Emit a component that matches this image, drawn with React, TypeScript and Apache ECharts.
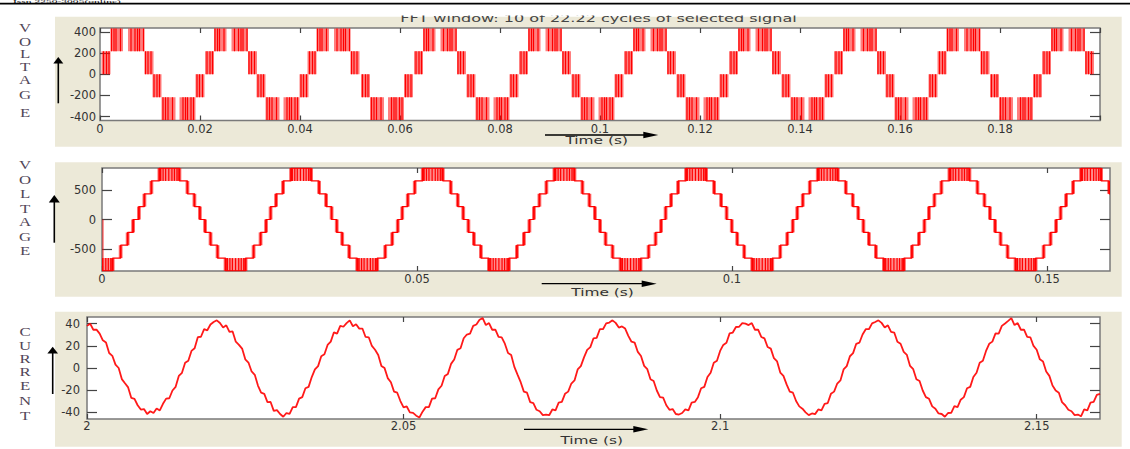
import React, { useEffect, useRef } from 'react';
import * as echarts from 'echarts';

const W = 1130;
const H = 449;

// ---------------- Panel 1 : 5-level voltage, 0 – 0.2 s ----------------
const v1XTicks = [0, 0.02, 0.04, 0.06, 0.08, 0.1, 0.12, 0.14, 0.16, 0.18, 0.2];
const v1XLabels = [0, 0.02, 0.04, 0.06, 0.08, 0.1, 0.12, 0.14, 0.16, 0.18];
const v1YTicks = [-400, -200, 0, 200, 400];
// centres of the positive / negative half cycles (s)
const v1Peaks = [0.0055, 0.0262, 0.0467, 0.068, 0.089, 0.11, 0.131, 0.152, 0.1727, 0.1936];
const v1Troughs = [0.0157, 0.0365, 0.0574, 0.0785, 0.0995, 0.1205, 0.1415, 0.1623, 0.1832];
// switching bands of a half cycle: [start offset, end offset, level low, level high]
const v1PosBands = [
  [-0.0052, -0.0034, 0, 217],
  [-0.0034, -0.0009, 217, 433],
  [0.0001, 0.0034, 217, 433],
  [0.0034, 0.0052, 0, 217],
];
const v1NegBands = [
  [-0.0052, -0.0034, -217, 0],
  [-0.0034, -0.0006, -433, -217],
  [0.0002, 0.0034, -433, -217],
  [0.0034, 0.0052, -217, 0],
];
// solid switching edges inside the bands: [offset, level low, level high]
const v1PosPulses = [
  [-0.0048, 0, 217], [-0.0042, 0, 217], [-0.0037, 0, 217],
  [-0.0032, 217, 433], [-0.0027, 217, 433], [-0.0023, 217, 433], [-0.0014, 217, 433],
  [0.0007, 217, 433], [0.0015, 217, 433], [0.002, 217, 433], [0.0024, 217, 433], [0.0032, 217, 433],
  [0.0036, 0, 217], [0.0041, 0, 217], [0.0047, 0, 217],
];
const v1NegPulses = [
  [-0.0049, -217, 0], [-0.0043, -217, 0], [-0.0038, -217, 0],
  [-0.0031, -433, -217], [-0.0026, -433, -217], [-0.0021, -433, -217], [-0.0012, -433, -217],
  [0.0009, -433, -217], [0.0014, -433, -217], [0.0018, -433, -217], [0.0025, -433, -217], [0.003, -433, -217],
  [0.0037, -217, 0], [0.0042, -217, 0], [0.0048, -217, 0],
];

// ---------------- Panel 2 : 9-level voltage, 0 – 0.16 s ----------------
const v2XTicks = [0, 0.05, 0.1, 0.15];
const v2YTicks = [-500, 0, 500];
const v2Peaks = [0.0107, 0.0316, 0.0525, 0.0734, 0.0943, 0.1152, 0.1361, 0.157];
const v2Troughs = [0.0001, 0.0212, 0.0421, 0.063, 0.0839, 0.1048, 0.1257, 0.1466];
// staircase steps of a half cycle: [offset, from level, to level]
const v2PosSteps = [
  [-0.00484, 0, 217], [-0.00397, 217, 433], [-0.00286, 433, 650], [-0.00159, 650, 866],
  [0.00159, 866, 650], [0.00286, 650, 433], [0.00397, 433, 217], [0.00484, 217, 0],
];
const v2NegSteps = [
  [-0.00484, 0, -217], [-0.00397, -217, -433], [-0.00286, -433, -650], [-0.00159, -650, -866],
  [0.00159, -866, -650], [0.00286, -650, -433], [0.00397, -433, -217], [0.00484, -217, 0],
];
const v2PosBand = [-0.00159, 0.00159, 650, 866];
const v2NegBand = [-0.00159, 0.00159, -866, -650];
const v2PosPulses = [
  [-0.0014, 650, 866], [-0.001, 650, 866], [-0.0006, 650, 866], [-0.0001, 650, 866],
  [0.0004, 650, 866], [0.0008, 650, 866], [0.0012, 650, 866],
];
const v2NegPulses = [
  [-0.0013, -866, -650], [-0.0009, -866, -650], [-0.0005, -866, -650], [0.0, -866, -650],
  [0.0005, -866, -650], [0.0009, -866, -650], [0.0013, -866, -650],
];
const v2StartBand = [[0, 0.0003, -866, 0]];

// ---------------- Panel 3 : current, 2 – 2.16 s ----------------
const iXTicks = [2, 2.05, 2.1, 2.15];
const iYTicks = [-40, -20, 0, 20, 40];
const iStart = 2;
const iStep = 0.0005;
const currentValues = [
  38, 40, 34.5, 34.6, 31, 25, 23, 13.5, 11, 3, 0, -10, -13.8, -17.5, -27, -27.8, -33.6, -37.5, -37, -41.5, -39, -40.6, -36.5, -38.3, -32.3, -27.6, -27.3, -20.3, -17, -7.2, -4.3, 4.7, 6.6, 15.4, 17.8, 27.8, 28.2, 35, 34, 39.2, 41.5, 43,
  40.6, 36.5, 38.5, 32.6, 33.0, 23.7, 20.9, 17.5, 7.8, 4.9, -3.1, -6.1, -15.8, -22.3, -23.3, -30.8, -30.6, -38.7, -38.0, -41.5, -44.0, -40.6, -41.4, -35.3, -35.3, -27.6, -26.3, -18.3, -17.0, -8.2, -1.3, 1.7, 10.6, 12.4, 20.8, 23.8, 32.2, 31.0, 38.0, 37.2, 40.5, 43.0,
  37.7, 39.5, 35.5, 35.6, 28.0, 27.7, 19.9, 16.5, 11.8, 1.9, -0.1, -9.1, -12.8, -21.3, -22.3, -29.8, -35.6, -34.7, -40.0, -40.5, -43.0, -44.6, -39.4, -35.3, -35.3, -27.6, -27.3, -19.3, -16.0, -7.2, -5.3, 3.7, 7.6, 16.4, 17.8, 26.8, 30.2, 31.0, 38.0, 39.2, 43.5, 45.0,
  38.7, 40.5, 34.5, 34.6, 28.0, 27.7, 21.9, 13.5, 11.8, 1.0, -6.0, -12.8, -21.3, -22.3, -30.8, -31.6, -37.7, -39.0, -42.5, -42.0, -42.6, -37.4, -38.3, -31.3, -30.6, -23.3, -21.3, -14.0, -11.2, -1.3, 1.7, 9.6, 16.4, 18.8, 26.8, 27.2, 35.0, 35.0, 40.2, 41.0, 43.0,
  40.7, 36.5, 37.5, 35.6, 29.0, 23.7, 22.9, 14.5, 10.8, 1.9, -1.1, -10.1, -11.8, -20.3, -26.3, -26.8, -33.6, -37.7, -37.0, -41.5, -42.0, -40.6, -37.4, -38.3, -31.3, -30.6, -26.3, -18.3, -17.0, -8.2, -4.3, 4.7, 6.6, 15.4, 20.8, 22.8, 31.2, 32.0, 37.0, 37.2, 40.5, 40.0,
  38.7, 40.5, 34.5, 34.6, 28.0, 26.7, 18.9, 17.5, 8.8, 5.9, -4.1, -7.1, -14.8, -21.3, -22.3, -29.8, -34.6, -36.7, -40.0, -42.5, -41.0, -41.6, -37.4, -38.3, -32.3, -31.6, -23.3, -21.3, -14.0, -11.2, -1.3, 1.7, 10.6, 13.4, 21.8, 22.8, 30.2, 35.0, 35.0, 40.2, 41.5, 43.0,
  40.7, 36.5, 38.5, 32.6, 32.0, 23.7, 21.9, 14.5, 11.8, 1.9, -1.1, -10.1, -11.8, -20.3, -26.3, -27.8, -34.6, -36.7, -41.0, -41.5, -44.0, -40.6, -40.4, -34.3, -35.3, -28.6, -26.3, -18.3, -17.0, -8.2, -4.3, 4.7, 6.6, 15.4, 21.8, 23.8, 31.2, 31.0, 38.0, 40.2, 42.5, 45.0,
  38.7, 40.5, 34.5, 34.6, 28.0, 27.7, 19.9, 16.5, 7.8, 5.9, -3.1, -7.1, -15.8, -20.3, -22.3, -30.8, -33.6, -37.7, -39.0, -42.5, -42.0, -43.6, -37.4, -38.3, -31.3, -30.6, -24.3, -23.3,
];

// ---------------- texts ----------------
const titleText = 'FFT window: 10 of 22.22 cycles of selected signal';
const headerText = 'Issn 2250-3005(online)';
const voltageLetters = ['V', 'O', 'L', 'T', 'A', 'G', 'E'];
const currentLetters = ['C', 'U', 'R', 'R', 'E', 'N', 'T'];
const timeLabel = 'Time (s)';

// ---------------- layout ----------------
const panels = [
  { left: 100, top: 28, width: 1000, height: 92.5, xMin: 0, xMax: 0.2, yMin: -437, yMax: 437,
    xTicks: v1XTicks, xLabels: v1XLabels, yTicks: v1YTicks, yMargin: 4, xMargin: 2 },
  { left: 102, top: 168, width: 1008, height: 103, xMin: 0, xMax: 0.16, yMin: -867, yMax: 867,
    xTicks: v2XTicks, xLabels: v2XTicks, yTicks: v2YTicks, yMargin: 6, xMargin: 2 },
  { left: 87, top: 317, width: 1013, height: 102, xMin: 2, xMax: 2.16, yMin: -46, yMax: 46,
    xTicks: iXTicks, xLabels: iXTicks, yTicks: iYTicks, yMargin: 7, xMargin: 1 },
];

const fmt = (v: number) => String(parseFloat(Number(v).toFixed(4)));
const AX_FONT = { fontFamily: 'DejaVu Sans', fontSize: 11.5, color: '#333' };
const TICK_STYLE = { color: '#444', width: 1.2 };
const RED = '#ff0000';

function buildOption() {
  const grid: any[] = [];
  const xAxis: any[] = [];
  const yAxis: any[] = [];
  panels.forEach((p, gi) => {
    grid.push({ left: p.left, top: p.top, width: p.width, height: p.height, show: true,
      backgroundColor: '#ffffff', borderColor: '#7a7a7a', borderWidth: 1.5 });
    const common = { type: 'value', gridIndex: gi, min: p.xMin, max: p.xMax,
      axisLine: { show: false, onZero: false }, splitLine: { show: false } };
    xAxis.push({ ...common, position: 'bottom',
      axisTick: { show: true, inside: true, length: 5, customValues: p.xTicks, lineStyle: TICK_STYLE },
      axisLabel: { show: true, customValues: p.xLabels, formatter: fmt, margin: p.xMargin, ...AX_FONT } });
    xAxis.push({ ...common, position: 'top',
      axisTick: { show: true, inside: true, length: 5, customValues: p.xTicks, lineStyle: TICK_STYLE },
      axisLabel: { show: false } });
    const ycommon = { type: 'value', gridIndex: gi, min: p.yMin, max: p.yMax,
      axisLine: { show: false, onZero: false }, splitLine: { show: false } };
    yAxis.push({ ...ycommon, position: 'left',
      axisTick: { show: true, inside: true, length: 10, customValues: p.yTicks, lineStyle: TICK_STYLE },
      axisLabel: { show: true, customValues: p.yTicks, formatter: fmt, margin: p.yMargin, ...AX_FONT } });
    yAxis.push({ ...ycommon, position: 'right',
      axisTick: { show: true, inside: true, length: 10, customValues: p.yTicks, lineStyle: TICK_STYLE },
      axisLabel: { show: false } });
  });

  const place = (centres: number[], pattern: number[][]) =>
    centres.flatMap((c) => pattern.map((b) => [c + b[0], c + b[1], b[2], b[3]]));
  const placePulses = (centres: number[], pattern: number[][]) =>
    centres.flatMap((c) => pattern.map((b) => [c + b[0], b[1], b[2]]));

  const rectSeries = (axis: number, data: number[][], fill: string) => ({
    type: 'custom', xAxisIndex: axis, yAxisIndex: axis, clip: true, silent: true,
    dimensions: ['t0', 't1', 'y0', 'y1'], encode: { x: [0, 1], y: [2, 3] },
    data,
    renderItem: (_params: any, api: any) => {
      const a = api.coord([api.value(0), api.value(3)]);
      const b = api.coord([api.value(1), api.value(2)]);
      return { type: 'rect', shape: { x: a[0], y: a[1], width: b[0] - a[0], height: b[1] - a[1] },
        style: { fill } };
    },
  });
  const pulseSeries = (axis: number, data: number[][], stroke: string, lw: number) => ({
    type: 'custom', xAxisIndex: axis, yAxisIndex: axis, clip: true, silent: true,
    dimensions: ['t', 'y0', 'y1'], encode: { x: [0], y: [1, 2] },
    data,
    renderItem: (_params: any, api: any) => {
      const a = api.coord([api.value(0), api.value(1)]);
      const b = api.coord([api.value(0), api.value(2)]);
      return { type: 'line', shape: { x1: a[0], y1: a[1], x2: b[0], y2: b[1] },
        style: { stroke, lineWidth: lw } };
    },
  });

  // panel 1
  const v1Bands = [...place(v1Peaks, v1PosBands), ...place(v1Troughs, v1NegBands)];
  const v1Pulses = [...placePulses(v1Peaks, v1PosPulses), ...placePulses(v1Troughs, v1NegPulses)];

  // panel 2
  const steps = [
    ...v2Peaks.flatMap((c) => v2PosSteps.map((s) => [c + s[0], s[1], s[2]])),
    ...v2Troughs.flatMap((c) => v2NegSteps.map((s) => [c + s[0], s[1], s[2]])),
  ].sort((p, q) => p[0] - q[0]).filter((s) => s[0] >= 0 && s[0] <= 0.16);
  const v2Line: number[][] = [[0, steps[0][1]]];
  steps.forEach((s) => { v2Line.push([s[0], s[1]], [s[0], s[2]]); });
  v2Line.push([0.16, steps[steps.length - 1][2]]);
  const v2StepRects = steps.map((s) => [s[0] - 0.0003, s[0] + 0.0003, Math.min(s[1], s[2]), Math.max(s[1], s[2])]);
  const v2Bands = [...place(v2Peaks, [v2PosBand]), ...place(v2Troughs, [v2NegBand]), ...v2StartBand];
  const v2Pulses = [...placePulses(v2Peaks, v2PosPulses), ...placePulses(v2Troughs, v2NegPulses)];
  const v2StepPulses = steps.map((s) => [s[0], s[1], s[2]]);

  // panel 3
  const iData = currentValues.map((v, i) => [iStart + i * iStep, v]);

  const series: any[] = [
    rectSeries(0, v1Bands, 'rgba(255,0,0,0.5)'),
    pulseSeries(0, v1Pulses, RED, 1.2),
    rectSeries(2, v2Bands, 'rgba(255,0,0,0.45)'),
    rectSeries(2, v2StepRects, 'rgba(255,0,0,0.6)'),
    pulseSeries(2, v2Pulses, RED, 1.2),
    pulseSeries(2, v2StepPulses, RED, 1.5),
    { type: 'line', xAxisIndex: 2, yAxisIndex: 2, data: v2Line, showSymbol: false, symbol: 'none',
      lineStyle: { color: RED, width: 1.2 }, silent: true, clip: true },
    { type: 'line', xAxisIndex: 4, yAxisIndex: 4, data: iData, showSymbol: false, symbol: 'none',
      lineStyle: { color: 'rgba(255,0,0,0.9)', width: 1.8 }, silent: true, clip: true },
  ];

  // ---------- graphic decorations ----------
  const txt = (text: string, x: number, y: number, size: number, family: string, fill: string,
    scaleX = 1, align = 'center', vAlign = 'middle', z = 10) => ({
    type: 'text', x, y, scaleX, z, silent: true,
    style: { text, x: 0, y: 0, fontSize: size, fontFamily: family, fill,
      align, verticalAlign: vAlign, textAlign: align, textVerticalAlign: vAlign },
  });
  const upArrow = (x: number, tip: number, bottom: number, hw: number, hh: number) => [
    { type: 'line', z: 10, shape: { x1: x, y1: bottom, x2: x, y2: tip + hh - 1 }, style: { stroke: '#000', lineWidth: 1.6 } },
    { type: 'polygon', z: 10, shape: { points: [[x - hw, tip + hh], [x, tip], [x + hw, tip + hh]] }, style: { fill: '#000' } },
  ];
  const rightArrow = (x1: number, x2: number, y: number, hl: number, hh: number) => [
    { type: 'line', z: 10, shape: { x1, y1: y, x2: x2 - hl + 1, y2: y }, style: { stroke: '#000', lineWidth: 1.3 } },
    { type: 'polygon', z: 10, shape: { points: [[x2 - hl, y - hh], [x2, y], [x2 - hl, y + hh]] }, style: { fill: '#000' } },
  ];
  const beige = (y: number, h: number) => ({ type: 'rect', z: -10, silent: true,
    shape: { x: 55, y, width: 1066.7, height: h }, style: { fill: '#ece9d8' } });

  const LETTER_FONT = 'Liberation Serif';
  const LETTER_COLOR = '#524658';
  const v1LetterY = [27.5, 41.7, 53.5, 66.7, 80, 95, 112.8];
  const v2LetterY = [165, 179.7, 193.7, 208.7, 222.2, 236.7, 251.3];
  const iLetterY = [332.2, 345.5, 359.2, 372.2, 385.8, 400.8, 416.2];

  const graphic: any[] = [
    beige(16.7, 130),
    beige(162.3, 134.4),
    beige(311.7, 135),
    // running header of the page, mostly cut away in the source: kept tiny inside the strip
    txt(headerText, 13, 0.2, 3.5, LETTER_FONT, '#000', 3.3, 'left', 'top', 5),
    { type: 'line', z: 40, shape: { x1: 0, y1: 3.6, x2: W, y2: 3.6 }, style: { stroke: '#000', lineWidth: 1.6 } },
    txt(titleText, 598.5, 18, 11, 'DejaVu Sans', '#444', 1.46, 'center', 'middle', 20),
    { type: 'rect', z: 30, silent: true, shape: { x: 0, y: 5, width: W, height: 10.5 }, style: { fill: '#ffffff' } },
    ...voltageLetters.map((c, i) => txt(c, 25, v1LetterY[i], 12, LETTER_FONT, LETTER_COLOR, 1.4)),
    ...voltageLetters.map((c, i) => txt(c, 25, v2LetterY[i], 12, LETTER_FONT, LETTER_COLOR, 1.4)),
    ...currentLetters.map((c, i) => txt(c, 25, iLetterY[i], 12, LETTER_FONT, LETTER_COLOR, 1.4)),
    ...upArrow(58.3, 57, 103.3, 5, 6.5),
    ...upArrow(54.3, 195, 242.7, 5.5, 7.5),
    ...upArrow(52.7, 346.7, 394, 5.3, 6.7),
    ...rightArrow(545, 658.3, 135, 15, 3.3),
    ...rightArrow(541.7, 656.7, 283.7, 15, 3.3),
    ...rightArrow(524, 648.3, 429.3, 15, 3.3),
    txt(timeLabel, 596.7, 140, 11, 'DejaVu Sans', '#333', 1.4),
    txt(timeLabel, 602.5, 292, 11, 'DejaVu Sans', '#333', 1.4),
    txt(timeLabel, 591.7, 440, 11, 'DejaVu Sans', '#333', 1.4),
  ];

  return {
    animation: false,
    backgroundColor: '#ffffff',
    grid, xAxis, yAxis, series, graphic,
  };
}

export default function App() {
  const ref = useRef<HTMLDivElement>(null);
  useEffect(() => {
    if (!ref.current) return;
    const chart = echarts.init(ref.current, undefined, { renderer: 'svg', width: W, height: H });
    chart.setOption(buildOption() as any);
    return () => chart.dispose();
  }, []);
  return (
    <div
      ref={ref}
      style={{ position: 'fixed', left: 0, top: 0, width: W, height: H, background: '#ffffff' }}
    />
  );
}
